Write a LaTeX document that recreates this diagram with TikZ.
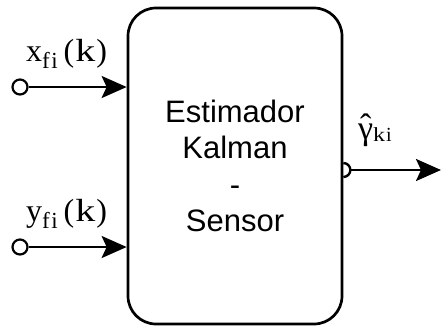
\documentclass[tikz,border=0pt]{standalone}
\usepackage{fontspec}
\usepackage{graphicx}
\setmainfont{Liberation Serif}
\newfontfamily\boxfont{Liberation Sans}
\usetikzlibrary{arrows.meta}
\begin{document}
\begin{tikzpicture}[x=1pt,y=-1pt,
  arr/.style={line width=2.4pt,-{Stealth[length=25pt,width=22pt,inset=5pt]}},
  port/.style={circle,draw,line width=2.2pt,fill=white,minimum size=15pt,inner sep=0pt},
  lbl/.style={anchor=base west,inner sep=0pt,font=\fontsize{32}{32}\selectfont},
  blockbox/.style={draw,line width=2.7pt,rounded corners=28pt,minimum width=214pt,minimum height=316pt,
    align=center,font=\boxfont\fontsize{31}{36.4}\selectfont}]
\useasboundingbox (0,0) rectangle (441,327);
\node[blockbox] (est) at (235,166) {Estimador\\Kalman\\-\\Sensor};
% inputs
\node[port] (inx) at (20,87) {};
\node[port] (iny) at (20,247) {};
\draw[arr] (inx) -- (inx -| est.west);
\draw[arr] (iny) -- (iny -| est.west);
\node[lbl] (xl) at (26,61) {x\raisebox{-7pt}{\fontsize{23}{23}\selectfont f\kern1.5pt i}\hspace{6pt}(\hspace{1pt}\scalebox{1.25}[1]{k}\hspace{1pt})};
\node[lbl] (yl) at (26,221) {y\raisebox{-7pt}{\fontsize{23}{23}\selectfont f\kern1.5pt i}\hspace{6pt}(\hspace{1pt}\scalebox{1.25}[1]{k}\hspace{1pt})};
% output
\coordinate (oc) at (est.east |- 0,170);
\coordinate (outend) at (441,170);
\draw[line width=2.4pt] (oc) ++(0,7) arc[start angle=90,end angle=-90,radius=7];
\draw[arr] ([xshift=7pt]oc) -- (outend);
\node[lbl,font=\fontsize{34}{34}\selectfont] (gl) at (358,139) {\ooalign{γ\cr\hidewidth\raisebox{2pt}{ˆ}\hidewidth\cr}\raisebox{-2pt}{\fontsize{20}{20}\selectfont\scalebox{1.2}[1]{k}\kern1pt i}};
\end{tikzpicture}
\end{document}
